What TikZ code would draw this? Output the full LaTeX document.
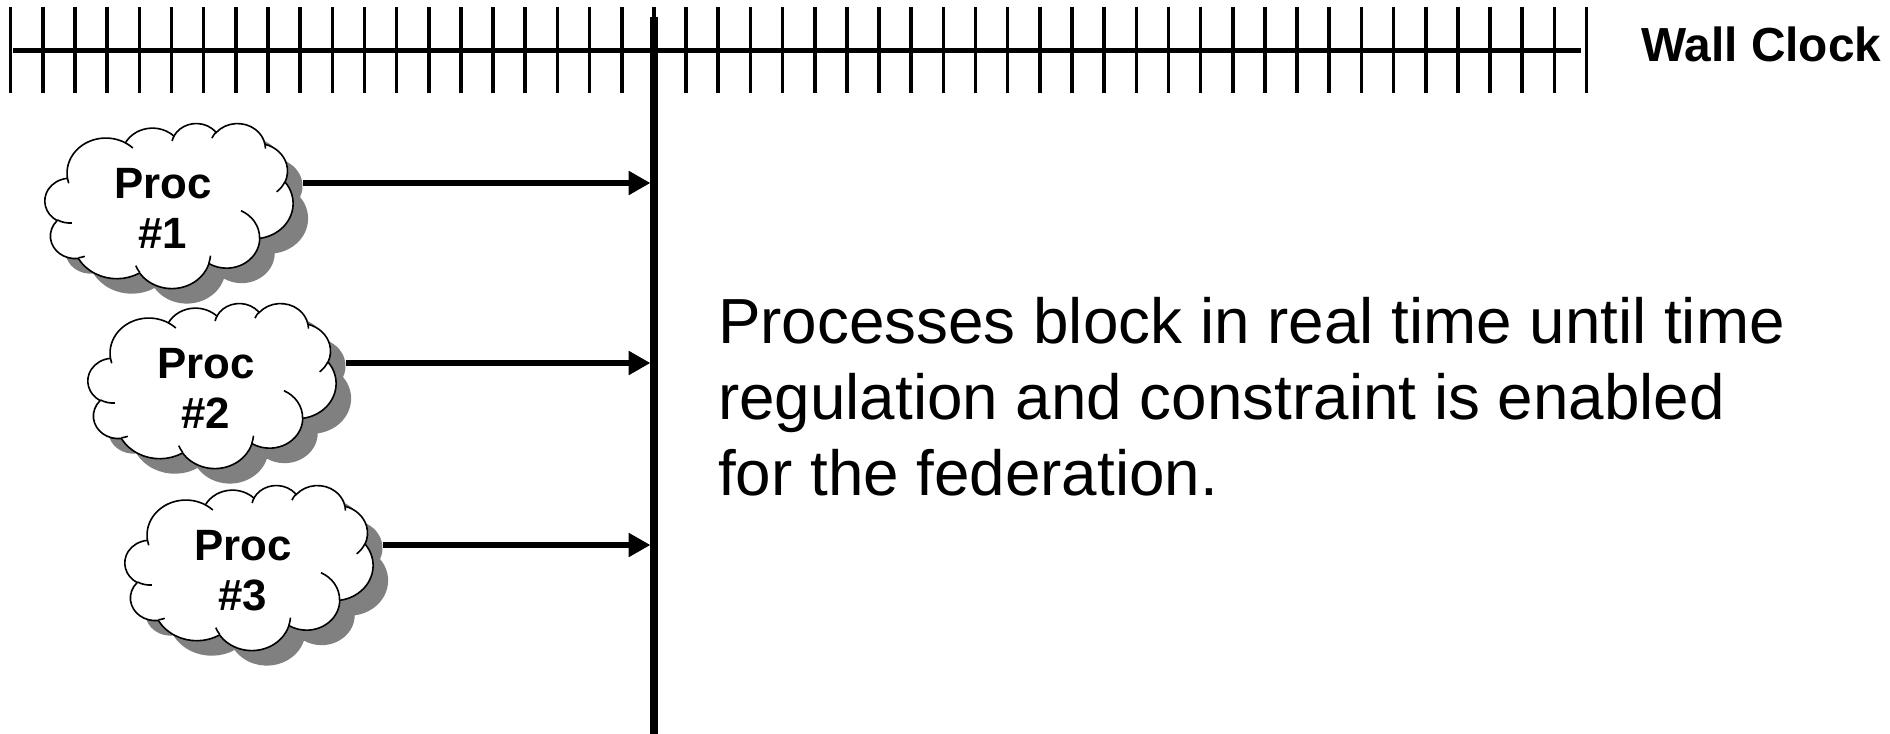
\documentclass[tikz,border=0pt]{standalone}
\usepackage{fontspec}
\setmainfont{Liberation Sans}
\usetikzlibrary{arrows.meta}
\definecolor{shadowgray}{RGB}{128,128,128}

\newcommand\cloudoutline{%
  (3.900,14.370)
  \foreach \cwr/\chr/\cst/\csw in {6.753/9.190/-190.4875/123.7805,
      5.333/7.267/-144.1024/89.9452, 4.365/5.945/-145.8079/99.7230,
      4.857/6.595/-130.9861/117.2417, 5.333/7.273/-78.7089/109.0269,
      6.775/9.220/-46.2673/130.2690, 5.785/7.867/0.6250/114.0333,
      6.752/9.215/22.4516/115.1726, 7.720/10.543/66.2426/75.7110,
      4.360/5.918/-274.9421/146.7356, 4.345/5.945/-246.8285/152.5189}{
    arc[x radius=\cwr, y radius=\chr,
        start angle={atan2(\cwr*sin(\cst),\chr*cos(\cst))},
        delta angle={mod(atan2(\cwr*sin(\cst+\csw),\chr*cos(\cst+\csw))-atan2(\cwr*sin(\cst),\chr*cos(\cst))+720,360)}]
  } -- cycle}

\newcommand\cloudinner{%
  \foreach \cmx/\cmy/\cwr/\chr/\cst/\csw in {
      4.693/26.177/4.345/5.945/86.742/26.4295,
      6.928/34.899/4.360/5.918/73.6105/11.4475,
      16.478/39.090/6.752/9.215/137.6242/14.0811,
      28.827/34.751/6.752/9.215/6.4533/15.9984,
      34.129/22.954/5.785/7.867/-70.2924/70.9174,
      41.798/15.354/5.333/7.273/30.318/27.7515,
      38.324/5.426/4.857/6.595/-13.7443/14.8589,
      29.078/3.952/4.857/6.595/-149.1815/18.1954,
      22.141/4.720/4.365/5.945/-163.4943/17.6864,
      14.000/5.192/6.753/9.190/-66.7070/12.3194,
      4.127/15.789/6.753/9.190/157.6544/11.8582}{
    (\cmx,\cmy) arc[x radius=\cwr, y radius=\chr,
        start angle={atan2(\cwr*sin(\cst),\chr*cos(\cst))},
        delta angle={mod(atan2(\cwr*sin(\cst+\csw),\chr*cos(\cst+\csw))-atan2(\cwr*sin(\cst),\chr*cos(\cst))+720,360)}]
  }}

\tikzset{
  cloudshadow/.style={fill=shadowgray, draw=none},
  cloudline/.style={draw=black, line width=1.6bp, fill=white},
  cloudmark/.style={draw=black, line width=1.6bp, fill=none},
  proclabel/.style={font=\fontsize{44}{50.5}\selectfont\bfseries, align=center, inner sep=0pt, anchor=north},
  procarrow/.style={line width=6.8bp, -{Triangle[length=22bp,width=23bp]}},
  clocktick/.style={line width=3.6bp},
  clockend/.style={line width=2.6bp},
  clockline/.style={line width=5.5bp},
  timeline/.style={line width=8bp},
}

% #1 name, #2 x, #3 y (top-left of frame), #4 label
\newcommand\procloud[4]{%
  \begin{scope}[shift={(#2+15,#3+15)}, x=5.7407bp, y=-3.8194bp]
    \path[cloudshadow] \cloudoutline;
  \end{scope}
  \begin{scope}[shift={(#2,#3)}, x=5.7407bp, y=-3.8194bp]
    \path[cloudline] \cloudoutline;
    \path[cloudmark] \cloudinner;
  \end{scope}
  \node[proclabel] (#1) at (#2+118,#3+45) {Proc\\#4};
  \coordinate (#1out) at (#2+258,#3+60);
}

\begin{document}
\begin{tikzpicture}[x=1bp, y=-1bp]
  \fill[white] (0,0) rectangle (1890,734);
  \useasboundingbox (0,0) rectangle (1890,734);

  % wall clock scale
  \draw[clockline] (13,50.7) -- (1581,50.7);
  \foreach \k in {1,...,48}
    \draw[clocktick] ({10.7+32.16*\k},7.3) -- ++(0,86);
  \draw[clockend] (10.7,7.3) -- ++(0,86);
  \draw[clockend] (1586.5,7.3) -- ++(0,86);
  \node[font=\fontsize{48}{56}\selectfont\bfseries, anchor=base west, inner sep=0pt] (wallclock) at (1641,62) {Wall Clock};

  % clouds
  \procloud{proc1}{45}{123}{\#1}
  \procloud{proc2}{88}{303}{\#2}
  \procloud{proc3}{125}{485}{\#3}

  % time line
  \coordinate (tltop) at (654,16.7);
  \coordinate (tlbot) at (654,734);
  \coordinate (tlleft) at (650.5,0);
  \draw[timeline] (tltop) -- (tlbot);

  \draw[procarrow] (proc1out) -- (proc1out -| tlleft);
  \draw[procarrow] (proc2out) -- (proc2out -| tlleft);
  \draw[procarrow] (proc3out) -- (proc3out -| tlleft);

  \node[font=\fontsize{64}{76}\selectfont, align=left, anchor=north west, inner sep=0pt] (msg) at (718,297.5)
    {Processes block in real time until time\\regulation and constraint is enabled\\for the federation.};
\end{tikzpicture}
\end{document}
